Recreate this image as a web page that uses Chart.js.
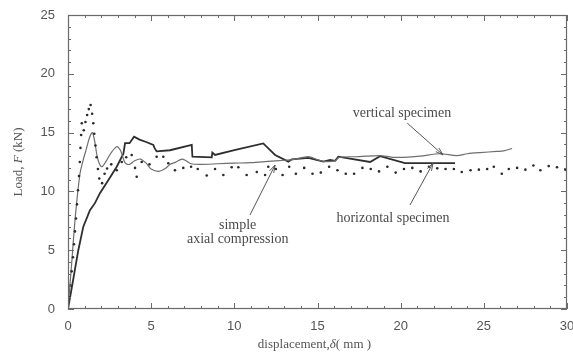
<!DOCTYPE html>
<html>
<head>
<meta charset="utf-8">
<script src="https://cdn.jsdelivr.net/npm/chart.js@4/dist/chart.umd.min.js"></script>
<style>
html,body{margin:0;padding:0;background:#fff;}
#wrap{width:573px;height:352px;position:relative;}
</style>
</head>
<body>
<div id="wrap"><canvas id="c" width="573" height="352"></canvas></div>
<script>
// ---- data ----
const xTicks = [0, 5, 10, 15, 20, 25, 30];
const yTicks = [0, 5, 10, 15, 20, 25];

// simple axial compression (dotted)
const simpleX = [0,0.08,0.15,0.22,0.3,0.36,0.42,0.48,0.54,0.6,0.66,0.71,0.75,0.79,0.83,0.95,1.05,1.15,1.25,1.36,1.45,1.52,1.58,1.65,1.72,1.8,1.88,2.05,2.2,2.35,2.6,2.93,3.23,3.5,3.83,4.03,4.13,4.43,4.9,5.33,5.73,6.03,6.43,6.93,7.4,7.8,8.34,8.84,9.34,9.84,10.24,10.74,11.35,11.85,12.04,12.5,12.9,13.3,13.7,14.2,14.7,15.2,15.7,16.2,16.7,17.2,17.7,18.2,18.7,19.2,19.7,20.2,20.7,21.2,21.7,22.2,22.7,23.2,23.67,24.2,24.7,25.2,25.6,26.08,26.5,27.0,27.5,27.98,28.4,28.9,29.4,29.9];
const simpleY = [0,1,2,3.2,4.4,5.5,6.6,7.7,8.9,10.1,11.3,12.5,13.7,14.8,15.8,15.2,15.9,16.5,17.0,17.35,16.6,15.8,14.9,13.9,12.9,11.9,11.1,10.7,11.5,11.95,12.3,11.8,12.5,12.9,13.1,12.0,11.25,12.5,12.3,12.95,12.95,12.4,11.8,12.0,12.1,11.9,11.35,11.9,11.4,12.05,12.05,11.4,11.65,11.4,12.1,11.9,11.4,12.1,11.5,12.0,11.5,11.6,12.1,11.8,11.5,11.5,12.0,11.9,11.7,12.1,11.6,11.9,12.0,11.7,12.1,11.96,11.9,11.9,11.65,11.8,11.85,11.9,12.1,11.5,11.9,12.0,11.85,12.2,11.8,12.15,12.05,11.85];

// vertical specimen (thin solid)
const vertX = [0,0.2,0.45,0.72,0.9,1.1,1.3,1.46,1.6,1.75,1.9,2.05,2.3,2.6,2.93,3.15,3.3,3.45,3.7,4.0,4.35,4.7,5.0,5.45,5.8,6.15,6.5,6.85,7.1,7.4,8.0,9.0,10.0,11.0,12.0,13.0,13.5,14.45,15.0,15.35,16.06,16.3,17.5,18.76,19.5,20.2,21.17,22.37,23.37,24.0,24.77,25.78,26.2,26.7];
const vertY = [0,3.5,8,11.5,12.6,13.6,14.6,15.0,14.3,13.0,12.3,12.1,12.6,13.3,13.8,13.5,12.9,12.4,12.3,12.6,12.75,12.4,11.9,11.7,11.9,12.3,12.5,12.75,12.6,12.35,12.3,12.35,12.4,12.45,12.55,12.65,12.7,12.95,12.7,12.55,12.6,12.9,12.95,13.05,12.9,12.9,13.0,13.2,13.05,13.2,13.3,13.4,13.45,13.65];

// horizontal specimen (thick solid)
const horzX = [0,0.3,0.62,0.92,1.32,1.62,1.92,2.43,2.93,3.33,3.43,3.7,3.97,4.3,4.7,5.13,5.2,5.33,6.13,7.44,7.48,8.64,8.68,8.84,10.0,11.74,12.45,13.25,13.45,14.45,15.35,15.76,16.06,16.25,18.16,18.76,20.26,23.27];
const horzY = [0,2.4,5.0,7.0,8.4,9.0,9.85,10.97,12.1,13.2,14.1,14.1,14.65,14.4,14.2,13.95,13.7,13.4,13.5,13.95,12.95,12.9,13.3,13.1,13.5,14.08,13.1,12.53,12.73,12.85,12.53,12.67,12.6,12.95,12.5,13.0,12.4,12.4];

// annotations (label text, label position, arrow tail, arrow head) in data units
const notes = [
  {lines:["vertical specimen"], at:[20.08,16.67], from:[20.4,15.8], to:[22.55,13.1]},
  {lines:["horizontal specimen"], at:[19.54,7.74], from:[20.56,8.84], to:[21.95,12.41]},
  {lines:["simple","axial compression"], at:[10.2,6.55], from:[10.94,7.99], to:[12.45,12.24]}
];

const toPts = (xs, ys) => xs.map((v, i) => ({x: v, y: ys[i]}));

const frame = {
  id: 'frame',
  afterDatasetsDraw(chart) {
    const {ctx, chartArea: {left, right, top, bottom}, scales: {x, y}} = chart;
    ctx.save();
    ctx.strokeStyle = '#6a6a6a';
    ctx.lineWidth = 1.2;
    ctx.strokeRect(left + 0.5, top + 0.5, right - left - 1, bottom - top - 1);
    ctx.lineWidth = 1;
    for (let v = xTicks[0]; v <= xTicks[xTicks.length - 1]; v++) {
      const p = Math.round(x.getPixelForValue(v)) + 0.5;
      const len = v % 5 === 0 ? 6 : 3;
      ctx.beginPath();
      ctx.moveTo(p, bottom); ctx.lineTo(p, bottom - len);
      ctx.moveTo(p, top); ctx.lineTo(p, top + len);
      ctx.stroke();
    }
    for (let v = yTicks[0]; v <= yTicks[yTicks.length - 1]; v++) {
      const p = Math.round(y.getPixelForValue(v)) + 0.5;
      const len = v % 5 === 0 ? 6 : 3;
      ctx.beginPath();
      ctx.moveTo(left, p); ctx.lineTo(left + len, p);
      ctx.moveTo(right, p); ctx.lineTo(right - len, p);
      ctx.stroke();
    }
    // annotations
    ctx.fillStyle = '#4a4a4a';
    ctx.strokeStyle = '#555';
    ctx.font = '14px "Liberation Serif", serif';
    ctx.textAlign = 'center';
    ctx.textBaseline = 'middle';
    notes.forEach(n => {
      const cx = x.getPixelForValue(n.at[0]), cy = y.getPixelForValue(n.at[1]);
      const lh = 14;
      n.lines.forEach((t, i) => ctx.fillText(t, cx, cy + (i - (n.lines.length - 1) / 2) * lh));
      const x1 = x.getPixelForValue(n.from[0]), y1 = y.getPixelForValue(n.from[1]);
      const x2 = x.getPixelForValue(n.to[0]), y2 = y.getPixelForValue(n.to[1]);
      ctx.lineWidth = 1;
      ctx.beginPath(); ctx.moveTo(x1, y1); ctx.lineTo(x2, y2); ctx.stroke();
      const a = Math.atan2(y2 - y1, x2 - x1), h = 8;
      ctx.beginPath();
      ctx.moveTo(x2 - h * Math.cos(a - 0.3), y2 - h * Math.sin(a - 0.3));
      ctx.lineTo(x2, y2);
      ctx.lineTo(x2 - h * Math.cos(a + 0.3), y2 - h * Math.sin(a + 0.3));
      ctx.stroke();
    });
    // axis titles with italic symbols
    const drawParts = (parts, cx, cy) => {
      let w = 0;
      parts.forEach(p => { ctx.font = p[1]; w += ctx.measureText(p[0]).width; });
      let sx = cx - w / 2;
      ctx.textAlign = 'left';
      parts.forEach(p => { ctx.font = p[1]; ctx.fillText(p[0], sx, 0 + cy); sx += ctx.measureText(p[0]).width; });
    };
    const rf = '13px "Liberation Serif", serif', itf = 'italic 13px "Liberation Serif", serif';
    ctx.fillStyle = '#555';
    ctx.textBaseline = 'middle';
    drawParts([["displacement,", rf], ["δ", itf], ["( mm )", rf]], (left + right) / 2 - 3, 345);
    ctx.save();
    ctx.translate(19, (top + bottom) / 2);
    ctx.rotate(-Math.PI / 2);
    drawParts([["Load, ", rf], ["F", itf], [" (kN)", rf]], 0, 0);
    ctx.restore();
    ctx.restore();
  }
};

new Chart(document.getElementById('c'), {
  type: 'scatter',
  data: {
    datasets: [
      {label: 'simple axial compression', data: toPts(simpleX, simpleY), showLine: false,
       pointRadius: 1.3, pointBackgroundColor: '#2a2a2a', pointBorderWidth: 0},
      {label: 'vertical specimen', data: toPts(vertX, vertY), showLine: true, pointRadius: 0,
       borderColor: '#6e6e6e', borderWidth: 1.2, tension: 0.3},
      {label: 'horizontal specimen', data: toPts(horzX, horzY), showLine: true, pointRadius: 0,
       borderColor: '#2e2e2e', borderWidth: 1.8, tension: 0}
    ]
  },
  options: {
    responsive: false,
    animation: false,
    layout: {padding: {top: 15, right: 6, left: 0, bottom: 0}},
    plugins: {legend: {display: false}, tooltip: {enabled: false}},
    scales: {
      x: {
        type: 'linear', min: 0, max: 30,
        afterFit: s => { s.height = 43; s.paddingLeft = 0; s.paddingRight = 0; },
        afterBuildTicks: s => { s.ticks = xTicks.map(v => ({value: v})); },
        grid: {display: false, drawTicks: false},
        border: {display: false},
        ticks: {padding: 10, color: '#555', font: {family: '"Liberation Sans", Arial, sans-serif', size: 13}}
      },
      y: {
        type: 'linear', min: 0, max: 25,
        afterFit: s => { s.width = 68; s.paddingTop = 0; s.paddingBottom = 0; },
        afterBuildTicks: s => { s.ticks = yTicks.map(v => ({value: v})); },
        grid: {display: false, drawTicks: false},
        border: {display: false},
        ticks: {padding: 13, color: '#555', font: {family: '"Liberation Sans", Arial, sans-serif', size: 13}}
      }
    }
  },
  plugins: [frame]
});
</script>
</body>
</html>
